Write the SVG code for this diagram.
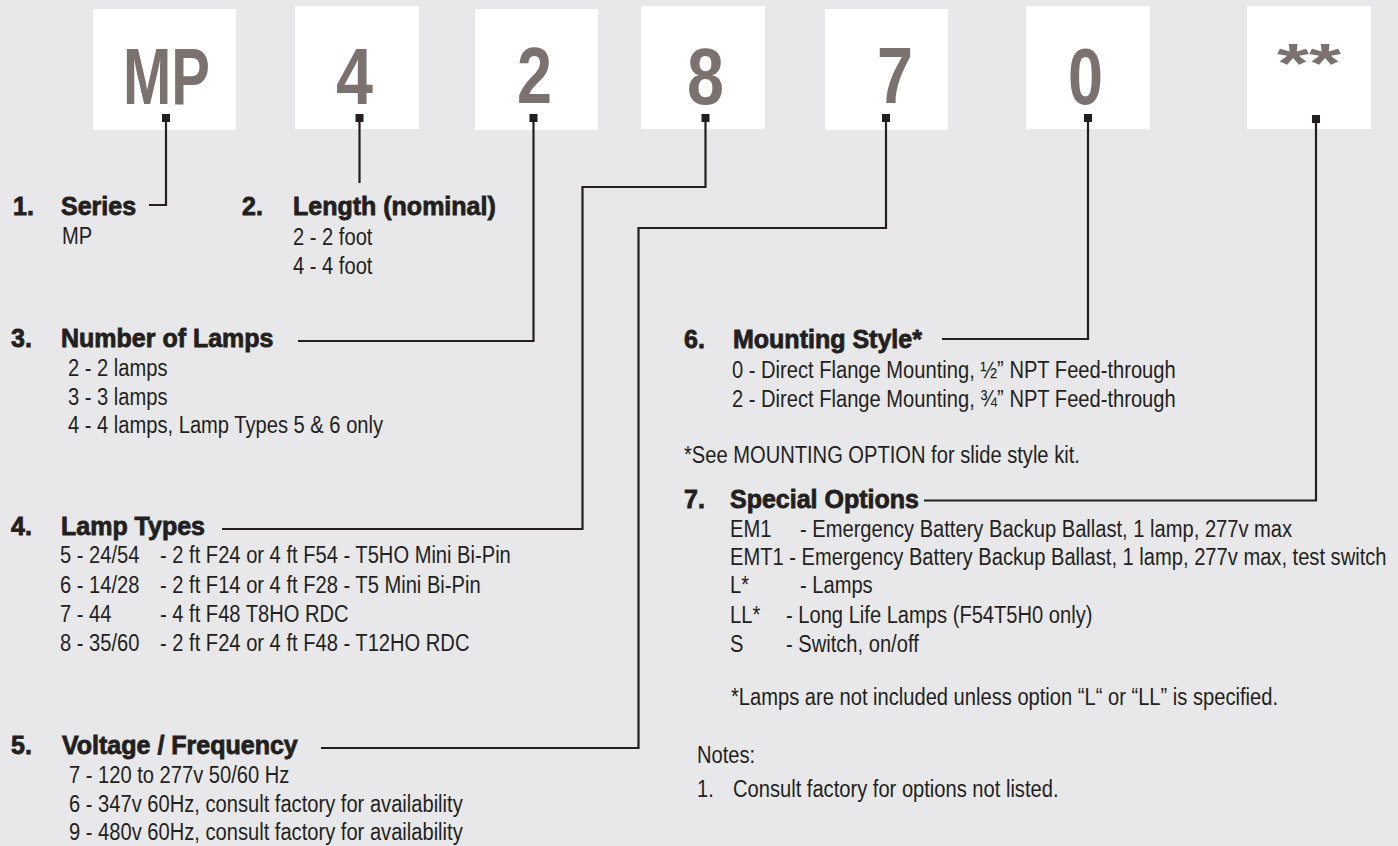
<svg xmlns="http://www.w3.org/2000/svg" width="1398" height="846" viewBox="0 0 1398 846">
<defs>
<style>
.bg{fill:#E8E8EA}
.box{fill:#FFFFFF}
.big{font-family:"Liberation Sans",Arial,sans-serif;font-weight:bold;font-size:80px;fill:#7B7270}
.star{font-family:"Liberation Sans",Arial,sans-serif;font-weight:bold;font-size:56px;fill:#7B7270}
.pin{fill:#231F20}
.wire{fill:none;stroke:#231F20;stroke-width:2.2;stroke-linejoin:miter}
.h{font-family:"Liberation Sans",Arial,sans-serif;font-weight:bold;font-size:25px;fill:#231F20;stroke:#231F20;stroke-width:0.8}
.t{font-family:"Liberation Sans",Arial,sans-serif;font-size:23px;fill:#231F20}
</style>
</defs>
<rect class="bg" x="0" y="0" width="1398" height="846"/>

<g id="code-MP">
<rect class="box" x="93" y="9" width="143" height="121"/>
<text class="big" x="123" y="104" textLength="87" lengthAdjust="spacingAndGlyphs">MP</text>
<rect class="pin" x="162" y="114" width="8" height="8"/>
</g>
<g id="code-4">
<rect class="box" x="295" y="6" width="124" height="123"/>
<text class="big" x="336" y="104" textLength="37" lengthAdjust="spacingAndGlyphs">4</text>
<rect class="pin" x="355.5" y="114" width="8" height="8"/>
</g>
<g id="code-2">
<rect class="box" x="475" y="9" width="123" height="121"/>
<text class="big" x="517" y="103" textLength="35" lengthAdjust="spacingAndGlyphs">2</text>
<rect class="pin" x="529.5" y="114" width="8" height="8"/>
</g>
<g id="code-8">
<rect class="box" x="641" y="6" width="124" height="123"/>
<text class="big" x="687" y="104" textLength="37" lengthAdjust="spacingAndGlyphs">8</text>
<rect class="pin" x="701.5" y="114" width="8" height="8"/>
</g>
<g id="code-7">
<rect class="box" x="825" y="9" width="123" height="121"/>
<text class="big" x="877" y="103" textLength="36" lengthAdjust="spacingAndGlyphs">7</text>
<rect class="pin" x="882" y="114" width="8" height="8"/>
</g>
<g id="code-0">
<rect class="box" x="1026" y="6" width="124" height="123"/>
<text class="big" x="1068" y="104" textLength="35" lengthAdjust="spacingAndGlyphs">0</text>
<rect class="pin" x="1084" y="114" width="8" height="8"/>
</g>
<g id="code-options">
<rect class="box" x="1247" y="6" width="124" height="123"/>
<text class="star" x="1277" y="82" textLength="64" lengthAdjust="spacingAndGlyphs">**</text>
<rect class="pin" x="1312" y="115" width="8" height="8"/>
</g>

<g id="connectors">
<path class="wire" d="M166 120 V205 H149"/>
<path class="wire" d="M359.5 120 V183"/>
<path class="wire" d="M533.5 120 V341 H298"/>
<path class="wire" d="M705.5 120 V187 H582.5 V529 H222"/>
<path class="wire" d="M886 120 V228 H638.5 V748 H321"/>
<path class="wire" d="M1088 120 V339 H942"/>
<path class="wire" d="M1316 120 V500.5 H924"/>
</g>

<g id="sec-series">
<text class="h" x="13" y="215">1.</text>
<text class="h" x="61" y="215">Series</text>
<text class="t" transform="translate(62,244) scale(0.875,1)">MP</text>
</g>

<g id="sec-length">
<text class="h" x="242" y="215">2.</text>
<text class="h" x="293" y="215">Length (nominal)</text>
<text class="t" transform="translate(293,245) scale(0.875,1)">2 - 2 foot</text>
<text class="t" transform="translate(293,274) scale(0.875,1)">4 - 4 foot</text>
</g>

<g id="sec-lamps">
<text class="h" x="11" y="347">3.</text>
<text class="h" x="61" y="347">Number of Lamps</text>
<text class="t" transform="translate(68,376) scale(0.875,1)">2 - 2 lamps</text>
<text class="t" transform="translate(68,405) scale(0.875,1)">3 - 3 lamps</text>
<text class="t" transform="translate(68,433) scale(0.875,1)">4 - 4 lamps, Lamp Types 5 &amp; 6 only</text>
</g>

<g id="sec-lamptypes">
<text class="h" x="11" y="535">4.</text>
<text class="h" x="61" y="535">Lamp Types</text>
<text class="t" transform="translate(60,563) scale(0.875,1)"><tspan x="0">5 - 24/54</tspan><tspan x="114.3">- 2 ft F24 or 4 ft F54 - T5HO Mini Bi-Pin</tspan></text>
<text class="t" transform="translate(60,593) scale(0.875,1)"><tspan x="0">6 - 14/28</tspan><tspan x="114.3">- 2 ft F14 or 4 ft F28 - T5 Mini Bi-Pin</tspan></text>
<text class="t" transform="translate(60,622) scale(0.875,1)"><tspan x="0">7 - 44</tspan><tspan x="114.3">- 4 ft F48 T8HO RDC</tspan></text>
<text class="t" transform="translate(60,651) scale(0.875,1)"><tspan x="0">8 - 35/60</tspan><tspan x="114.3">- 2 ft F24 or 4 ft F48 - T12HO RDC</tspan></text>
</g>

<g id="sec-voltage">
<text class="h" x="11" y="754">5.</text>
<text class="h" x="62" y="754">Voltage / Frequency</text>
<text class="t" transform="translate(69,783) scale(0.875,1)">7 - 120 to 277v 50/60 Hz</text>
<text class="t" transform="translate(69,812) scale(0.875,1)">6 - 347v 60Hz, consult factory for availability</text>
<text class="t" transform="translate(69,840) scale(0.875,1)">9 - 480v 60Hz, consult factory for availability</text>
</g>

<g id="sec-mounting">
<text class="h" x="684" y="348">6.</text>
<text class="h" x="733" y="348">Mounting Style*</text>
<text class="t" transform="translate(732,378) scale(0.875,1)">0 - Direct Flange Mounting, ½” NPT Feed-through</text>
<text class="t" transform="translate(732,407) scale(0.875,1)">2 - Direct Flange Mounting, ¾” NPT Feed-through</text>
<text class="t" transform="translate(684,463) scale(0.875,1)">*See MOUNTING OPTION for slide style kit.</text>
</g>

<g id="sec-options">
<text class="h" x="684" y="508">7.</text>
<text class="h" x="730" y="508">Special Options</text>
<text class="t" transform="translate(730,537) scale(0.875,1)"><tspan x="0">EM1</tspan><tspan x="80">- Emergency Battery Backup Ballast, 1 lamp, 277v max</tspan></text>
<text class="t" transform="translate(730,565) scale(0.875,1)">EMT1 - Emergency Battery Backup Ballast, 1 lamp, 277v max, test switch</text>
<text class="t" transform="translate(730,593) scale(0.875,1)"><tspan x="0">L*</tspan><tspan x="80">- Lamps</tspan></text>
<text class="t" transform="translate(730,623) scale(0.875,1)"><tspan x="0">LL*</tspan><tspan x="64">- Long Life Lamps (F54T5H0 only)</tspan></text>
<text class="t" transform="translate(730,652) scale(0.875,1)"><tspan x="0">S</tspan><tspan x="64">- Switch, on/off</tspan></text>
<text class="t" transform="translate(731,705) scale(0.875,1)">*Lamps are not included unless option “L“ or “LL” is specified.</text>
</g>

<g id="sec-notes">
<text class="t" transform="translate(697,763) scale(0.875,1)">Notes:</text>
<text class="t" transform="translate(697,797) scale(0.875,1)">1.</text>
<text class="t" transform="translate(733,797) scale(0.875,1)">Consult factory for options not listed.</text>
</g>
</svg>
